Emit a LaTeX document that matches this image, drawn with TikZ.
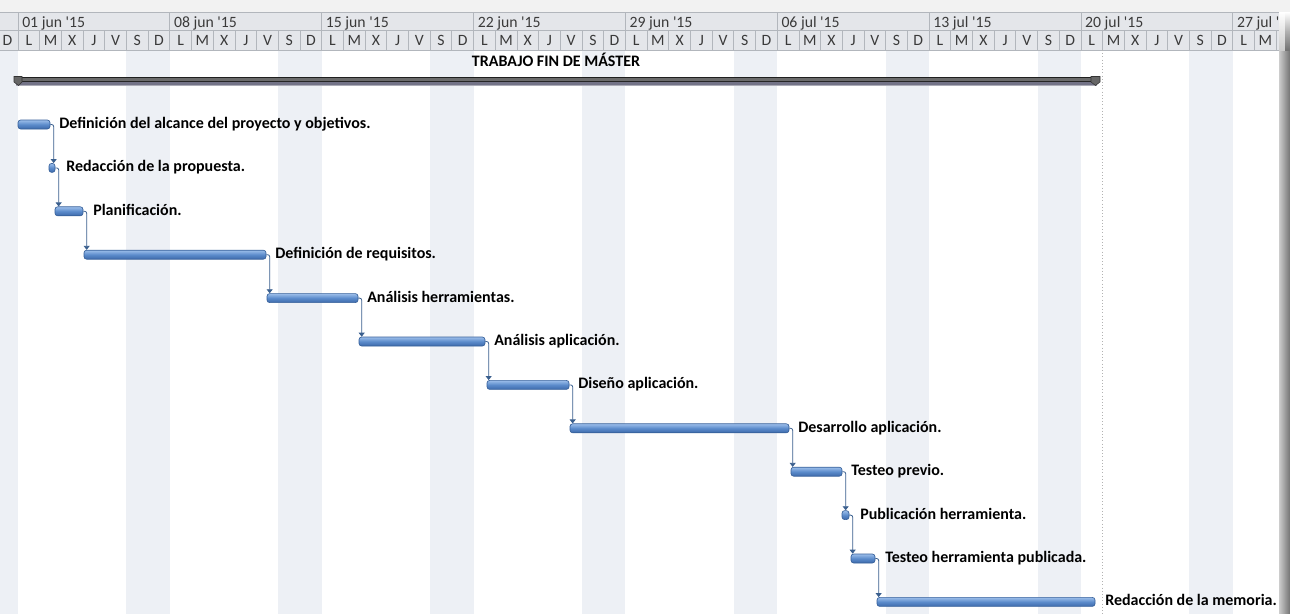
\documentclass[tikz,border=0pt]{standalone}
\usepackage{fontspec}
\setmainfont{Carlito}
\usetikzlibrary{arrows.meta,fit,calc}
\definecolor{hdr}{HTML}{E4E6EA}
\definecolor{gridc}{HTML}{B2B6BC}
\definecolor{wkend}{HTML}{EDF0F5}
\definecolor{topg}{HTML}{F2F2F2}
\definecolor{hdrtxt}{HTML}{3A3A3A}
\definecolor{barline}{HTML}{36609A}
\definecolor{bartop}{HTML}{9CBEEA}
\definecolor{barmid}{HTML}{5B8BCB}
\definecolor{barbot}{HTML}{3D69AA}
\definecolor{linkc}{HTML}{3A5F8E}
\newcommand{\apo}{\textquotesingle}
\begin{document}
\begin{tikzpicture}[x=0.75pt,y=-0.75pt,
  hdrtext/.style={text=hdrtxt,font=\fontsize{11.8}{13}\selectfont,inner sep=0pt},
  lbl/.style={font=\fontsize{12}{14}\selectfont\bfseries,text=black,inner sep=0pt,anchor=base west},
  bar/.style={rounded corners=2pt,draw=barline,line width=0.5pt,top color=bartop,bottom color=barbot,middle color=barmid,inner sep=0pt},
  link/.style={draw=linkc,line width=0.6pt,rounded corners=1.5pt,-{Triangle[width=4.5pt,length=3pt]}}]
\useasboundingbox (0,0) rectangle (1290,614);
\fill[white] (0,0) rectangle (1290,614);
\fill[topg] (0,0) rectangle (1290,12);
% weekend stripes
\foreach \k in {-1,...,7}{
  \fill[wkend] ({18+151.85*\k+5*21.693},50) rectangle ({18+151.85*\k+7*21.693},614);
}
% header
\begin{scope}
\clip (0,0) rectangle (1285,614);
\fill[hdr] (0,12) rectangle (1290,50);
\draw[gridc,line width=0.6pt] (0,12) -- (1290,12) (0,30) -- (1290,30) (0,50) -- (1290,50);
\draw[gridc,line width=0.6pt] ({18-21.693},30) -- ({18-21.693},50);
\node[hdrtext,anchor=base] (dprev) at (7.5,45.5) {D};
\foreach \k in {0,...,8}{
  \draw[gridc,line width=0.6pt] ({18+151.85*\k},12) -- ({18+151.85*\k},50);
  \foreach \i in {0,...,6}{
    \draw[gridc,line width=0.6pt] ({18+151.85*\k+21.693*\i},30) -- ({18+151.85*\k+21.693*\i},50);
  }
}
\foreach \k in {0,...,7}{
  \foreach \l [count=\i from 0] in {L,M,X,J,V,S,D}{
    \node[hdrtext,anchor=base] (d\k\i) at ({18+151.85*\k+21.693*(\i+0.5)},45.5) {\l};
  }
}
\foreach \l [count=\i from 0] in {L,M}{
  \node[hdrtext,anchor=base] (d8\i) at ({18+151.85*8+21.693*(\i+0.5)},45.5) {\l};
}
\foreach \k/\t in {0/01 jun \apo15,1/08 jun \apo15,2/15 jun \apo15,3/22 jun \apo15,4/29 jun \apo15,5/06 jul \apo15,6/13 jul \apo15,7/20 jul \apo15,8/27 jul \apo15}{
  \node[hdrtext,anchor=base west] (w\k) at ({18+151.85*\k+4},27) {\t};
}
\end{scope}
% project end marker
\draw[gray!60,line width=0.6pt,dash pattern=on 0.8pt off 1.6pt] (1102,50) -- (1102,614);
% summary bar
\fill[black!88] (16,76.5) rectangle (1097,78.3);
\fill[black!58] (16,78.3) rectangle (1097,80.6);
\fill[black!85] (16,80.6) rectangle (1097,82);
\fill[black!20!blue!10!gray] (16,82) rectangle (1097,85);
\fill[black!10!blue!8!gray!60] (16,85) rectangle (1097,86);
\filldraw[fill=black!60,draw=black!80,line width=0.4pt] (14,76.5) -- (22,76.5) -- (22,82) -- (18.5,85.5) -- (14,82) -- cycle;
\filldraw[fill=black!60,draw=black!80,line width=0.4pt] (1091,76.5) -- (1100,76.5) -- (1100,82) -- (1095.5,85.5) -- (1091,82) -- cycle;
\node[lbl,anchor=base] (sumtxt) at (556,66) {TRABAJO FIN DE MÁSTER};
% tasks
\foreach \i/\s/\e/\lx/\txt in {
  1/18/50/59/Definición del alcance del proyecto y objetivos.,
  2/49/55/66/Redacción de la propuesta.,
  3/55/83/93/Planificación.,
  4/84/266/275/Definición de requisitos.,
  5/267/358/367/Análisis herramientas.,
  6/359/485/494/Análisis aplicación.,
  7/487/569/578/Diseño aplicación.,
  8/570/789/798/Desarrollo aplicación.,
  9/791/842/851/Testeo previo.,
  10/842/849/860/Publicación herramienta.,
  11/851/875/885/Testeo herramienta publicada.,
  12/877/1095/1105/Redacción de la memoria.}{
  \pgfmathsetmacro\yc{124.5+43.4*(\i-1)}
  \node[bar,fit={(\s,\yc-4.5) (\e,\yc+4.5)}] (b\i) {};
  \node[lbl] (t\i) at (\lx,\yc+4) {\txt};
}
\foreach \a/\b in {1/2,2/3,3/4,4/5,5/6,6/7,7/8,8/9,9/10,10/11,11/12}{
  \draw[link] (b\a.east) -| ([xshift=2.5pt]b\a.east |- b\b.north);
}
% right shadow
\shade[left color=black!20,right color=black!55] (1279,50) rectangle (1290,614);
\shade[top color=white,bottom color=black!20] (1279,12) rectangle (1285,50);
\shade[top color=white,bottom color=black!55,middle color=black!30] (1285,12) rectangle (1290,50);
\end{tikzpicture}
\end{document}
